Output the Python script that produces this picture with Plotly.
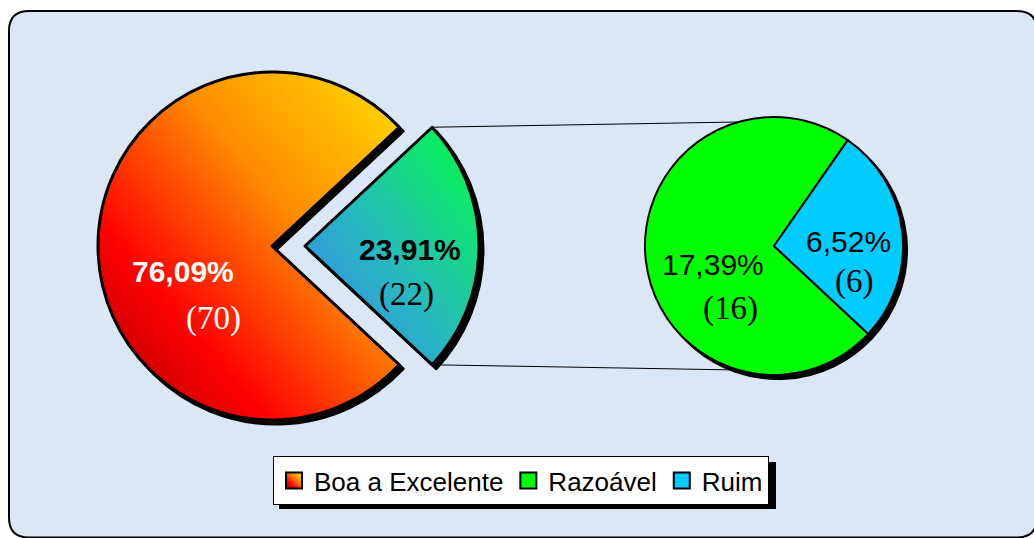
import math
import plotly.graph_objects as go

# ---------------- data ----------------
main_labels = ["Boa a Excelente", "Razoável + Ruim"]
main_values = [70, 22]
sub_labels = ["Razoável", "Ruim"]
sub_values = [16, 6]
legend_labels = ["Boa a Excelente", "Razoável", "Ruim"]

main_colors = ["#FF5E00", "#24C6A6"]
sub_colors = ["#00FF00", "#00CCFF"]
legend_colors = ["#FF5E00", "#00FF00", "#00CCFF"]

total = sum(main_values)

W, H = 1034, 538

def fmt_pct(v):
    return f"{v / total * 100:.2f}%".replace(".", ",")

# ---------------- geometry (pixels) ----------------
R1 = 174          # main pie radius
PULL_PX = 33      # explosion of the "other" slice
C1 = (272, 246)   # main pie centre
R2 = 129          # secondary pie radius
C2 = (774, 246)
SH = 4            # shadow offset
ROT = 133.04

pull = PULL_PX / R1

def dom_square(cx, cy, half):
    return dict(x=[(cx - half) / W, (cx + half) / W],
                y=[1 - (cy + half) / H, 1 - (cy - half) / H])

half1 = R1 * (1 + pull)
half2 = R2

fig = go.Figure()

# shadows
fig.add_trace(go.Pie(values=main_values, labels=main_labels, sort=False,
                     direction="clockwise", rotation=ROT,
                     pull=[0, pull], textinfo="none", hoverinfo="skip",
                     marker=dict(colors=["black", "black"], line=dict(color="black", width=3)),
                     domain=dom_square(C1[0] + SH, C1[1] + SH, half1), showlegend=False))
fig.add_trace(go.Pie(values=sub_values, labels=sub_labels, sort=False,
                     direction="clockwise", rotation=ROT,
                     textinfo="none", hoverinfo="skip",
                     marker=dict(colors=["black", "black"], line=dict(color="black", width=2)),
                     domain=dom_square(C2[0] + SH, C2[1] + SH, half2), showlegend=False))

# main pies
fig.add_trace(go.Pie(values=main_values, labels=main_labels, sort=False,
                     direction="clockwise", rotation=ROT,
                     pull=[0, pull], textinfo="none", hoverinfo="label+value",
                     marker=dict(colors=main_colors, line=dict(color="black", width=3)),
                     domain=dom_square(C1[0], C1[1], half1), showlegend=False))
fig.add_trace(go.Pie(values=sub_values, labels=sub_labels, sort=False,
                     direction="clockwise", rotation=ROT,
                     textinfo="none", hoverinfo="label+value",
                     marker=dict(colors=sub_colors, line=dict(color="black", width=2)),
                     domain=dom_square(C2[0], C2[1], half2), showlegend=False))

# legend entries
for lab, col in zip(legend_labels, legend_colors):
    fig.add_trace(go.Scatter(x=[None], y=[None], mode="markers", name=lab,
                             marker=dict(symbol="square", size=17, color=col,
                                         line=dict(color="black", width=2))))

# ---------------- connector lines ----------------
half_ang = math.pi * main_values[1] / total  # half angle of exploded slice
ex_apex = (C1[0] + PULL_PX, C1[1])
p_top = (ex_apex[0] + R1 * math.cos(half_ang), ex_apex[1] - R1 * math.sin(half_ang))
p_bot = (ex_apex[0] + R1 * math.cos(half_ang), ex_apex[1] + R1 * math.sin(half_ang))
tang = math.radians(16)
q_top = (C2[0] - R2 * math.sin(tang), C2[1] - R2 * math.cos(tang))
q_bot = (C2[0] - R2 * math.sin(tang), C2[1] + R2 * math.cos(tang))

def px(x):
    return x / W

def py(y):
    return 1 - y / H

shapes = []
# rounded frame
x0, y0, x1, y1, rr = 9, 11, 1037, 537.5, 20
path = (f"M {px(x0 + rr)},{py(y0)} L {px(x1 - rr)},{py(y0)} "
        f"Q {px(x1)},{py(y0)} {px(x1)},{py(y0 + rr)} "
        f"L {px(x1)},{py(y1 - rr)} Q {px(x1)},{py(y1)} {px(x1 - rr)},{py(y1)} "
        f"L {px(x0 + rr)},{py(y1)} Q {px(x0)},{py(y1)} {px(x0)},{py(y1 - rr)} "
        f"L {px(x0)},{py(y0 + rr)} Q {px(x0)},{py(y0)} {px(x0 + rr)},{py(y0)} Z")
shapes.append(dict(type="path", path=path, xref="paper", yref="paper",
                   fillcolor="#DCE7F5", line=dict(color="black", width=2), layer="below"))
for a, b in [(p_top, q_top), (p_bot, q_bot)]:
    shapes.append(dict(type="line", xref="paper", yref="paper",
                       x0=px(a[0]), y0=py(a[1]), x1=px(b[0]), y1=py(b[1]),
                       line=dict(color="black", width=1), layer="below"))
# legend shadow
shapes.append(dict(type="rect", xref="paper", yref="paper",
                   x0=px(279), y0=py(509), x1=px(776), y1=py(462),
                   fillcolor="black", line=dict(width=0), layer="below"))

# ---------------- labels ----------------
SANS = "Liberation Sans, Arial, sans-serif"
SERIF = "Liberation Serif, Times New Roman, serif"
ann = []
def add_label(text, x, y, family, size, color):
    ann.append(dict(text=text, x=px(x), y=py(y), xref="paper", yref="paper",
                    xanchor="center", yanchor="middle", showarrow=False,
                    font=dict(family=family, size=size, color=color)))

add_label(f"<b>{fmt_pct(main_values[0])}</b>", 183, 271, SANS, 30, "white")
add_label(f"({main_values[0]})", 213, 318, SERIF, 33, "white")
add_label(f"<b>{fmt_pct(main_values[1])}</b>", 410, 249, SANS, 30, "black")
add_label(f"({main_values[1]})", 406, 294, SERIF, 33, "black")
add_label(fmt_pct(sub_values[0]), 713, 264, SANS, 30, "black")
add_label(f"({sub_values[0]})", 730, 308, SERIF, 33, "black")
add_label(fmt_pct(sub_values[1]), 848, 241, SANS, 30, "black")
add_label(f"({sub_values[1]})", 854, 281, SERIF, 33, "black")

fig.update_layout(
    width=W, height=H,
    margin=dict(l=0, r=0, t=0, b=0),
    paper_bgcolor="white", plot_bgcolor="rgba(0,0,0,0)",
    xaxis=dict(visible=False), yaxis=dict(visible=False),
    shapes=shapes, annotations=ann,
    legend=dict(orientation="h", x=px(273), y=py(456), xanchor="left", yanchor="top",
                bgcolor="white", bordercolor="black", borderwidth=1,
                font=dict(family=SANS, size=26, color="black"),
                itemwidth=30, tracegroupgap=0),
)

# remove the page margin and give the Excel-like gradient fills to the main pie
post = """
document.body.style.margin = '0';
var gd = document.getElementById('{plot_id}');
var svg = gd.querySelector('svg.main-svg');
var ns = 'http://www.w3.org/2000/svg';
var defs = svg.querySelector('defs') || svg.insertBefore(document.createElementNS(ns, 'defs'), svg.firstChild);
function grad(id, stops) {
  var g = document.createElementNS(ns, 'linearGradient');
  g.setAttribute('id', id);
  g.setAttribute('x1', '0'); g.setAttribute('y1', '1');
  g.setAttribute('x2', '1'); g.setAttribute('y2', '0');
  stops.forEach(function (s) {
    var st = document.createElementNS(ns, 'stop');
    st.setAttribute('offset', s[0]);
    st.setAttribute('stop-color', s[1]);
    g.appendChild(st);
  });
  defs.appendChild(g);
}
grad('gMain', [[0, '#A00000'], [0.28, '#FF0000'], [0.62, '#FF8C00'], [1, '#FFE000']]);
grad('gOther', [[0, '#3A7CF0'], [0.45, '#28B8C0'], [1, '#00FF40']]);
var traces = gd.querySelectorAll('.pielayer .trace');
if (traces.length > 2) {
  var sl = traces[2].querySelectorAll('path.surface');
  if (sl[0]) sl[0].style.fill = 'url(#gMain)';
  if (sl[1]) sl[1].style.fill = 'url(#gOther)';
}
var lp = gd.querySelectorAll('.legend .traces');
if (lp[0]) {
  var p = lp[0].querySelector('path.scatterpts');
  if (p) p.style.fill = 'url(#gMain)';
}
"""

fig.write_html("out.html", post_script=post, config={"displayModeBar": False})
